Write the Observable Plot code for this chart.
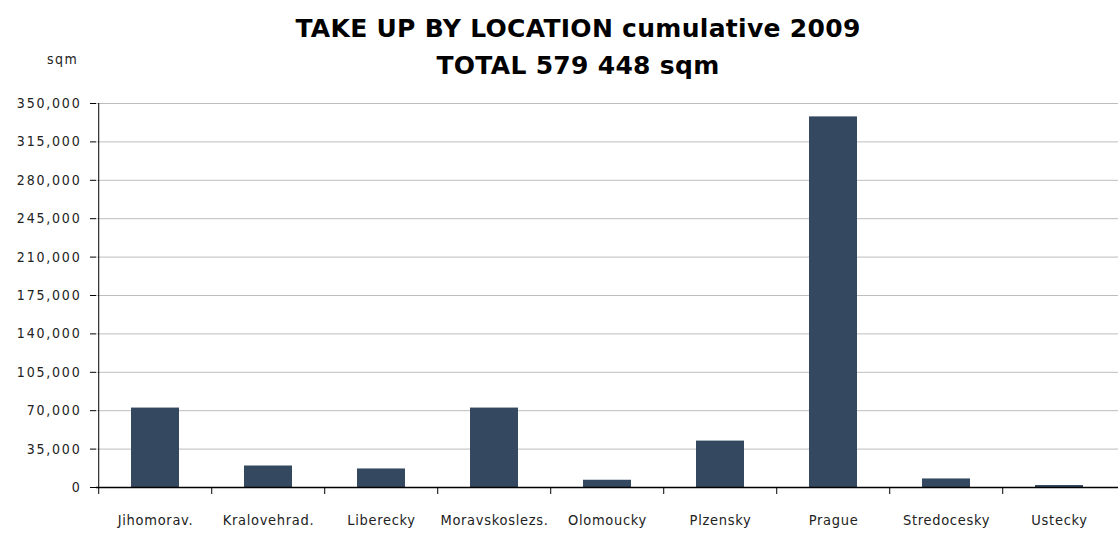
<!DOCTYPE html>
<html>
<head>
<meta charset="utf-8">
<script src="https://cdn.jsdelivr.net/npm/d3@7"></script>
<script src="https://cdn.jsdelivr.net/npm/@observablehq/plot@0.6"></script>
<style>
  html, body { margin: 0; padding: 0; background: #fff; }
  #wrap { position: relative; width: 1118px; height: 540px; overflow: hidden; font-family: "DejaVu Sans Condensed", "DejaVu Sans", sans-serif; }
  #head { position: relative; height: 90px; }
  .t1, .t2 { position: absolute; left: 0; width: 1156px; text-align: center; font-weight: bold; color: #000; font-size: 25px; line-height: 1; font-family: "DejaVu Sans", sans-serif; }
  .t1 { top: 16px; letter-spacing: 0.3px; }
  .t2 { top: 53px; letter-spacing: 0.3px; }
  .unit { position: absolute; left: 47px; top: 51px; font-size: 14px; color: #222; letter-spacing: 1.5px; }
  #chart g[aria-label="y-axis tick label"] text { letter-spacing: 1.8px; }
  #chart g[aria-label="x-axis tick label"] text { letter-spacing: 0.7px; }
</style>
</head>
<body>
<div id="wrap">
  <div id="head">
    <div class="t1">TAKE UP BY LOCATION cumulative 2009</div>
    <div class="t2">TOTAL 579 448 sqm</div>
    <div class="unit">sqm</div>
  </div>
  <div id="chart"></div>
</div>
<script>
const categories = ["Jihomorav.", "Kralovehrad.", "Liberecky", "Moravskoslezs.", "Olomoucky", "Plzensky", "Prague", "Stredocesky", "Ustecky"];
const takeUp = [72400, 19600, 16900, 72400, 6600, 42300, 337800, 7800, 1800];
const yTicks = [0, 35000, 70000, 105000, 140000, 175000, 210000, 245000, 280000, 315000, 350000];

const data = categories.map((c, i) => ({category: c, value: takeUp[i]}));

const width = 1118, height = 450;
const marginLeft = 96, marginRight = 0;
const step = (width - marginLeft - marginRight) / categories.length;

const chart = Plot.plot({
  width, height,
  marginTop: 13, marginBottom: 53, marginLeft, marginRight,
  style: {fontFamily: "'DejaVu Sans Condensed', 'DejaVu Sans', sans-serif", fontSize: "14px", color: "#222", background: "#fff"},
  x: {domain: categories, paddingInner: 0.578, paddingOuter: 0.289, label: null},
  y: {domain: [0, 350000], label: null},
  marks: [
    Plot.gridY(yTicks, {stroke: "#bdbdbd", strokeOpacity: 1, strokeWidth: 1}),
    Plot.barY(data, {x: "category", y: "value", fill: "#34495f"}),
    Plot.axisY(yTicks, {tickSize: 6, tickPadding: 9, tickFormat: d3.format(","), stroke: "#000", fontSize: 14}),
    Plot.ruleX([0], {x: () => categories[0], dx: -step / 2, y1: 0, y2: 350000, stroke: "#000"}),
    Plot.ruleY([0], {stroke: "#000", strokeWidth: 1.5}),
    Plot.axisX({tickSize: 0, tickPadding: 27, fontSize: 14.5}),
    Plot.axisX({tickSize: 7, text: null, dx: -step / 2, stroke: "#000"})
  ]
});
document.getElementById("chart").appendChild(chart);
</script>
</body>
</html>
